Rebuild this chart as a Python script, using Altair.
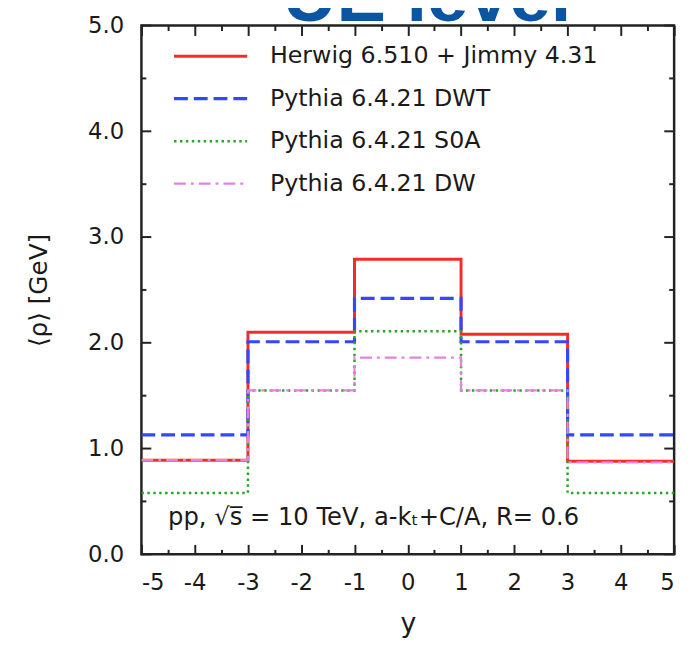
import altair as alt
import pandas as pd

# ---- data ----
edges = [-5, -3, -1, 1, 3, 5]
series = [
    "Herwig 6.510 + Jimmy 4.31",
    "Pythia 6.4.21 DWT",
    "Pythia 6.4.21 S0A",
    "Pythia 6.4.21 DW",
]
herwig = [0.89, 2.10, 2.79, 2.08, 0.88]
dwt = [1.13, 2.01, 2.42, 2.01, 1.13]
s0a = [0.58, 1.55, 2.11, 1.55, 0.58]
dw = [0.89, 1.55, 1.86, 1.55, 0.87]
values = [herwig, dwt, s0a, dw]

x_major = [-5, -4, -3, -2, -1, 0, 1, 2, 3, 4, 5]
x_minor = [-4.5, -3.5, -2.5, -1.5, -0.5, 0.5, 1.5, 2.5, 3.5, 4.5]
y_major = [0, 1, 2, 3, 4, 5]
y_minor = [0.5, 1.5, 2.5, 3.5, 4.5]

colors = ["#f42b2b", "#3347ff", "#27a627", "#e382e3"]
dashes = [[1, 0], [14, 6], [2.5, 3.5], [12, 5, 3, 5]]
widths = [3, 3.2, 2.5, 2.2]

annotation = "pp, √s\u0305 = 10 TeV, a-kₜ+C/A, R= 0.6"
title_text = "UE level"

W, H = 539, 535
FONT = "DejaVu Sans"
TXT = "#1a1a1a"
TICK = "#222222"

xscale = alt.Scale(domain=[-5, 5], nice=False, zero=False)
yscale = alt.Scale(domain=[0, 5], nice=False, zero=False)


def X(field):
    return alt.X(field, scale=xscale, axis=None)


layers = []

# base layer with the labelled axes
base_df = pd.DataFrame({"x": [-5, 5], "y": [0, 5]})
base = alt.Chart(base_df).mark_point(opacity=0).encode(
    x=alt.X("x:Q", scale=xscale, axis=alt.Axis(
        values=x_major,
        labelExpr="datum.value < 0 ? '-' + abs(datum.value) : '' + datum.value",
        title="y", grid=False, domain=False,
        ticks=False, tickSize=0, labelPadding=18, labelFont=FONT,
        labelFontSize=23, labelColor=TXT, titleFont=FONT, titleFontSize=27,
        titleFontWeight="normal", titleColor=TXT, titlePadding=16)),
    y=alt.Y("y:Q", scale=yscale, axis=alt.Axis(
        values=y_major, format=".1f", title="⟨ρ⟩ [GeV]", grid=False,
        domain=False, ticks=False, tickSize=0, labelPadding=18,
        labelFont=FONT, labelFontSize=23, labelColor=TXT, titleFont=FONT,
        titleFontSize=25, titleFontWeight="normal", titleColor=TXT,
        titlePadding=36)),
)
layers.append(base)

# inward x ticks drawn as extra unlabelled axes moved onto the opposite edge
for vals, length in ((x_major, 10), (x_minor, 5)):
    for orient in ("top", "bottom"):
        tdf = pd.DataFrame({"tx": vals})
        layers.append(alt.Chart(tdf).mark_point(opacity=0).encode(
            x=alt.X("tx:Q", scale=xscale, axis=alt.Axis(
                orient=orient, offset=-H, values=vals, tickSize=length,
                tickWidth=2, tickColor=TICK, ticks=True, labels=False,
                domain=False, grid=False, title="")),
        ))

# step histograms
for name, vals, c, d, w in zip(series, values, colors, dashes, widths):
    df = pd.DataFrame({"x": edges, "y": vals + [vals[-1]], "s": name})
    layers.append(alt.Chart(df).mark_line(
        interpolate="step-after", color=c, strokeDash=d, strokeWidth=w,
        clip=True).encode(
        x=X("x:Q"),
        y=alt.Y("y:Q", scale=yscale),
    ))

# inward y ticks (left and right)
for vals, length in ((y_major, 10), (y_minor, 5)):
    df = pd.DataFrame({"ty": vals})
    layers.append(alt.Chart(df).mark_rule(color=TICK, strokeWidth=2).encode(
        y=alt.Y("ty:Q", scale=yscale), x=alt.value(0), x2=alt.value(length)))
    layers.append(alt.Chart(df).mark_rule(color=TICK, strokeWidth=2).encode(
        y=alt.Y("ty:Q", scale=yscale), x=alt.value(W), x2=alt.value(W - length)))

# legend (drawn inside the frame)
for i, (name, c, d, w) in enumerate(zip(series, colors, dashes, widths)):
    ypos = 31 + 43 * i
    ldf = pd.DataFrame({"s": [name]})
    layers.append(alt.Chart(ldf).mark_rule(
        color=c, strokeDash=d, strokeWidth=w).encode(
        x=alt.value(33), x2=alt.value(107), y=alt.value(ypos)))
    layers.append(alt.Chart(ldf).mark_text(
        align="left", baseline="middle", font=FONT, fontSize=24,
        color=TXT).encode(x=alt.value(130), y=alt.value(ypos), text="s:N"))

# annotation
layers.append(alt.Chart(pd.DataFrame({"t": [annotation]})).mark_text(
    align="left", baseline="alphabetic", font=FONT, fontSize=24.5,
    color=TXT).encode(x=alt.value(27), y=alt.value(505), text="t:N"))

# cut-off blue title
layers.append(alt.Chart(pd.DataFrame({"t": [title_text]})).mark_text(
    align="center", baseline="alphabetic", font="Liberation Sans",
    fontSize=75, fontWeight="bold", color="#0b55a3").encode(
    x=alt.value(289), y=alt.value(-5), text="t:N"))

chart = alt.layer(*layers).resolve_axis(x="independent").properties(
    width=W, height=H,
    autosize=alt.AutoSizeParams(type="none"),
    padding={"left": 135, "top": 14, "right": 11, "bottom": 88},
).configure_view(stroke="#222", strokeWidth=2.5)

chart.save("out.html", embed_options={"renderer": "svg", "actions": False})
